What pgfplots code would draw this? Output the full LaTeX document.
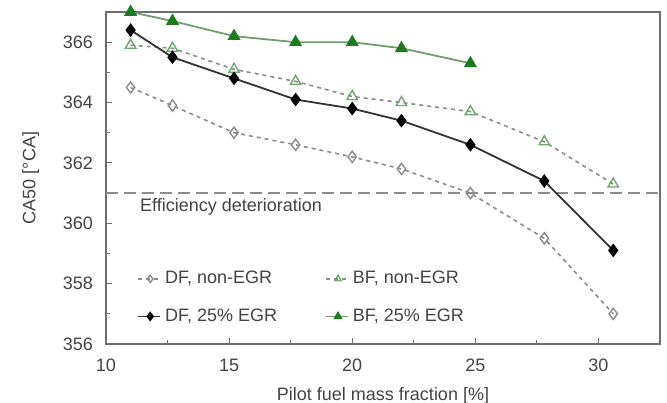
\documentclass[border=0pt]{standalone}
\usepackage{pgfplots}
\pgfplotsset{compat=1.18}
\usepackage{fontspec}
\setmainfont{Liberation Sans}
\setsansfont{Liberation Sans}

\definecolor{txt}{HTML}{444444}
\definecolor{frame}{HTML}{6E6E6E}
\definecolor{dgreen}{HTML}{1E7A1E}
\definecolor{lgreen}{HTML}{6FA86F}
\definecolor{lgray}{HTML}{8C8C8C}

\pgfplotstableread{
x     y
11.0  364.5
12.7  363.9
15.2  363.0
17.7  362.6
20.0  362.2
22.0  361.8
24.8  361.0
27.8  359.5
30.6  357.0
}\dfnon
\pgfplotstableread{
x     y
11.0  365.9
12.7  365.8
15.2  365.1
17.7  364.7
20.0  364.2
22.0  364.0
24.8  363.7
27.8  362.7
30.6  361.3
}\bfnon
\pgfplotstableread{
x     y
11.0  366.4
12.7  365.5
15.2  364.8
17.7  364.1
20.0  363.8
22.0  363.4
24.8  362.6
27.8  361.4
30.6  359.1
}\dfegr
\pgfplotstableread{
x     y
11.0  367.0
12.7  366.7
15.2  366.2
17.7  366.0
20.0  366.0
22.0  365.8
24.8  365.3
}\bfegr

\begin{document}
\begin{tikzpicture}[font=\fontsize{9}{10.8}\selectfont]
\useasboundingbox (-53pt,-29pt) rectangle (280.5pt,172pt);
\begin{axis}[
  scale only axis,
  width=277pt, height=166pt,
  xmin=10, xmax=32.5,
  ymin=356, ymax=367,
  xtick={10,15,20,25,30},
  ytick={356,358,360,362,364,366},
  minor xtick={12.5,17.5,22.5,27.5},
  minor ytick={357,359,361,363,365},
  tick align=inside,
  xtick pos=bottom, ytick pos=left,
  major tick length=3pt, minor tick length=2pt,
  every tick/.style={frame, line width=0.5pt},
  axis line style={frame, line width=0.9pt},
  tick label style={text=txt},
  xticklabel style={yshift=-4pt},
  yticklabel style={xshift=-3pt},
  /pgf/number format/assume math mode=true,
  xlabel={Pilot fuel mass fraction [\%]},
  ylabel={CA50 [°CA]},
  label style={text=txt},
  xlabel style={yshift=-1pt},
  ylabel style={yshift=5pt},
  clip=false,
  legend columns=2,
  legend cell align=left,
  legend style={draw=none, fill=none, at={(0.045,0.245)}, anchor=north west,
    text=txt, row sep=7pt, /tikz/every even column/.append style={column sep=22pt}},
  legend image code/.code={
    \draw[#1, mark size=1.8pt] (0pt,0pt) -- (11pt,0pt);
    \draw[#1, mark size=1.8pt, only marks] plot coordinates {(6pt,0pt)};
  },
]
% efficiency deterioration threshold
\addplot[forget plot, draw=lgray, line width=1pt, dash pattern=on 6pt off 3pt] coordinates {(10,361) (32.5,361)};
\node[anchor=west, text=txt] at (axis cs:11.1,360.55) {Efficiency deterioration};

\addplot[lgray, line width=0.8pt, dash pattern=on 2pt off 2pt,
  mark=diamond, mark size=2.8pt, mark options={solid, draw=lgray, fill=white, line width=0.7pt}]
  table {\dfnon};
\addlegendentry{DF, non-EGR}
\addplot[lgray, line width=0.8pt, dash pattern=on 2pt off 2pt,
  mark=triangle, mark size=3pt, mark options={solid, draw=lgreen, fill=white, line width=0.7pt}]
  table {\bfnon};
\addlegendentry{BF, non-EGR}
\addplot[black!80, line width=0.9pt,
  mark=diamond*, mark size=2.7pt, mark options={solid, draw=black, fill=black}]
  table {\dfegr};
\addlegendentry{DF, 25\% EGR}
\addplot[lgreen!70!gray, line width=0.9pt,
  mark=triangle*, mark size=2.9pt, mark options={solid, draw=dgreen, fill=dgreen}]
  table {\bfegr};
\addlegendentry{BF, 25\% EGR}
\end{axis}
\end{tikzpicture}
\end{document}
